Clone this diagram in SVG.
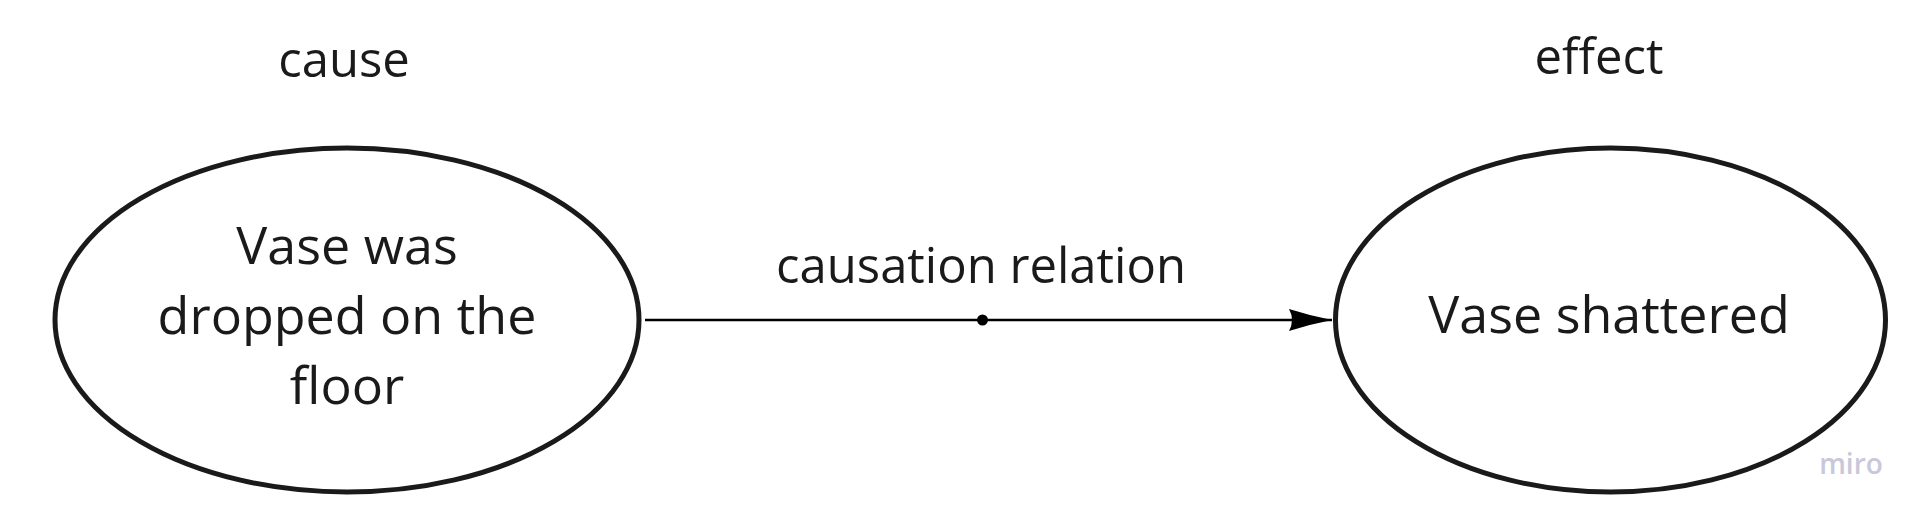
<svg xmlns="http://www.w3.org/2000/svg" width="1925" height="519" viewBox="0 0 1925 519">
  <style>
    .node { fill: #ffffff; stroke: #1a1a1a; stroke-width: 5; }
    .txt { font-family: "Open Sans", "Noto Sans", "Liberation Sans", sans-serif; fill: #1a1a1a; text-anchor: middle; }
    .lbl { font-size: 49px; }
    .ntxt { font-size: 52px; }
    .edge { stroke: #000000; stroke-width: 2.5; fill: none; }
    .wm { font-family: "Open Sans", "Noto Sans", sans-serif; font-size: 28px; font-weight: 600; fill: #c8c8da; text-anchor: middle; }
  </style>
  <defs>
    <marker id="arrow" viewBox="0 0 43 22" refX="43" refY="11" markerWidth="43" markerHeight="22" markerUnits="userSpaceOnUse" orient="auto">
      <path d="M0,0 Q22,7 43,11 Q22,15 0,22 Q6,11 0,0 Z" fill="#000000"/>
    </marker>
  </defs>
  <rect x="0" y="0" width="1925" height="519" fill="#ffffff"/>
  <text class="txt lbl" x="344" y="77">cause</text>
  <text class="txt lbl" x="1599" y="74">effect</text>
  <g id="connectors">
    <line class="edge" x1="645" y1="320" x2="1332" y2="320" marker-end="url(#arrow)"/>
    <circle cx="982.5" cy="320" r="5.5" fill="#000000"/>
    <text class="txt lbl" x="981" y="283">causation relation</text>
  </g>
  <g id="node-cause">
    <ellipse class="node" cx="347" cy="320" rx="292" ry="172"/>
    <text class="txt ntxt" x="347" y="264">Vase was</text>
    <text class="txt ntxt" x="347" y="334">dropped on the</text>
    <text class="txt ntxt" x="347" y="404">floor</text>
  </g>
  <g id="node-effect">
    <ellipse class="node" cx="1610.5" cy="320" rx="275" ry="172"/>
    <text class="txt ntxt" x="1609" y="333">Vase shattered</text>
  </g>
  <text class="wm" x="1851" y="474">miro</text>
</svg>
